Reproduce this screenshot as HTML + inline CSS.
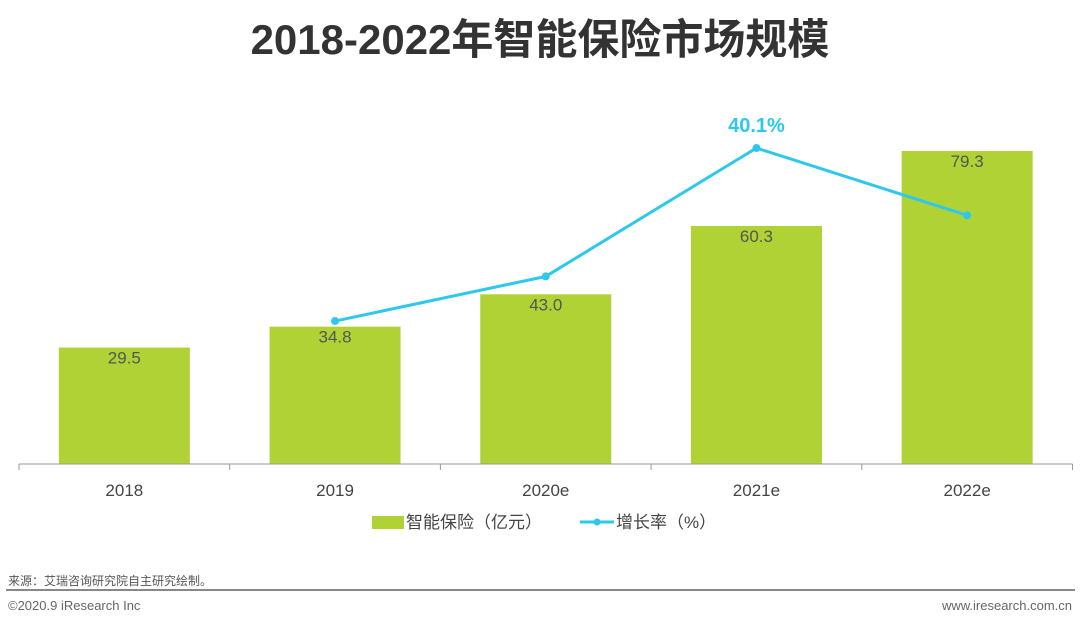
<!DOCTYPE html>
<html><head><meta charset="utf-8"><style>
body{margin:0;background:#fff;width:1080px;height:625px;overflow:hidden;font-family:"Liberation Sans","Noto Sans CJK SC",sans-serif;}
</style></head><body>
<svg width="1080" height="625" xmlns="http://www.w3.org/2000/svg" id="chart">
<text x="540" y="54" text-anchor="middle" font-size="42" font-weight="bold" fill="#333" font-family="Liberation Sans, Noto Sans CJK SC, sans-serif">2018-2022年智能保险市场规模</text>
<g id="bars"></g><g id="line"></g><g id="axis"></g>
<g>
<rect x="372" y="516" width="32" height="13" fill="#b0d235"/>
<text x="406" y="528" font-size="17" fill="#444" font-family="Liberation Sans, Noto Sans CJK SC, sans-serif">智能保险（亿元）</text>
<line x1="580" y1="522" x2="614" y2="522" stroke="#2dc8ec" stroke-width="3"/>
<circle cx="597" cy="522" r="3.5" fill="#2dc8ec"/>
<text x="616" y="528" font-size="17" fill="#444" font-family="Liberation Sans, Noto Sans CJK SC, sans-serif">增长率（%）</text>
</g>
<text x="8" y="585" font-size="12" fill="#555" font-family="Liberation Sans, Noto Sans CJK SC, sans-serif">来源：艾瑞咨询研究院自主研究绘制。</text>
<line x1="6" y1="590" x2="1075" y2="590" stroke="#888" stroke-width="2"/>
<text x="8" y="610" font-size="13" fill="#666">©2020.9 iResearch Inc</text>
<text x="1072" y="610" font-size="13" fill="#666" text-anchor="end">www.iresearch.com.cn</text>
</svg>
<script>
const categories=["2018","2019","2020e","2021e","2022e"];
const marketSize=[29.5,34.8,43.0,60.3,79.3];
const growthCats=["2019","2020e","2021e","2022e"];
const growthRate=[18.0,23.7,40.1,31.5];
const NS="http://www.w3.org/2000/svg";
const base=464, x0=19, step=210.7, bw=131;
const xC=i=>x0+step*(i+0.5);
const yBar=v=>base-v*3.947;
const yLine=v=>462-v*7.83;
function mk(t,a,p){const e=document.createElementNS(NS,t);for(const k in a)e.setAttribute(k,a[k]);p.appendChild(e);return e;}
const gb=document.getElementById('bars'),gl=document.getElementById('line'),ga=document.getElementById('axis');
categories.forEach((c,i)=>{
 const r=mk('rect',{x:xC(i)-bw/2,y:yBar(marketSize[i]),width:bw,height:base-yBar(marketSize[i]),fill:'#b0d235'},gb);
 
 
 const t=mk('text',{x:xC(i),y:yBar(marketSize[i])+16,'text-anchor':'middle','font-size':17,fill:'#555'},gb);
 t.textContent=marketSize[i].toFixed(1);
 
 
 const l=mk('text',{x:xC(i),y:496,'text-anchor':'middle','font-size':17,fill:'#444'},ga);
 l.textContent=c;
 
 
});
const ax=mk('line',{x1:x0,y1:base,x2:x0+step*5,y2:base,stroke:'#999','stroke-width':1},ga);


for(let i=0;i<=5;i++){mk('line',{x1:x0+step*i,y1:base,x2:x0+step*i,y2:base+6,stroke:'#999'},ga);}
const pts=growthCats.map((c,j)=>[xC(categories.indexOf(c)),yLine(growthRate[j])]);
const pl=mk('polyline',{points:pts.map(p=>p.join(',')).join(' '),fill:'none',stroke:'#2dc8ec','stroke-width':3},gl);


pts.forEach((p,j)=>{
 const c=mk('circle',{cx:p[0],cy:p[1],r:4,fill:'#2dc8ec'},gl);
 
 
});
const mi=growthRate.indexOf(Math.max(...growthRate));
const lab=mk('text',{x:pts[mi][0],y:pts[mi][1]-16,'text-anchor':'middle','font-size':20,'font-weight':'bold',fill:'#2dc8ec'},gl);
lab.textContent=growthRate[mi].toFixed(1)+'%';


</script>
</body></html>
